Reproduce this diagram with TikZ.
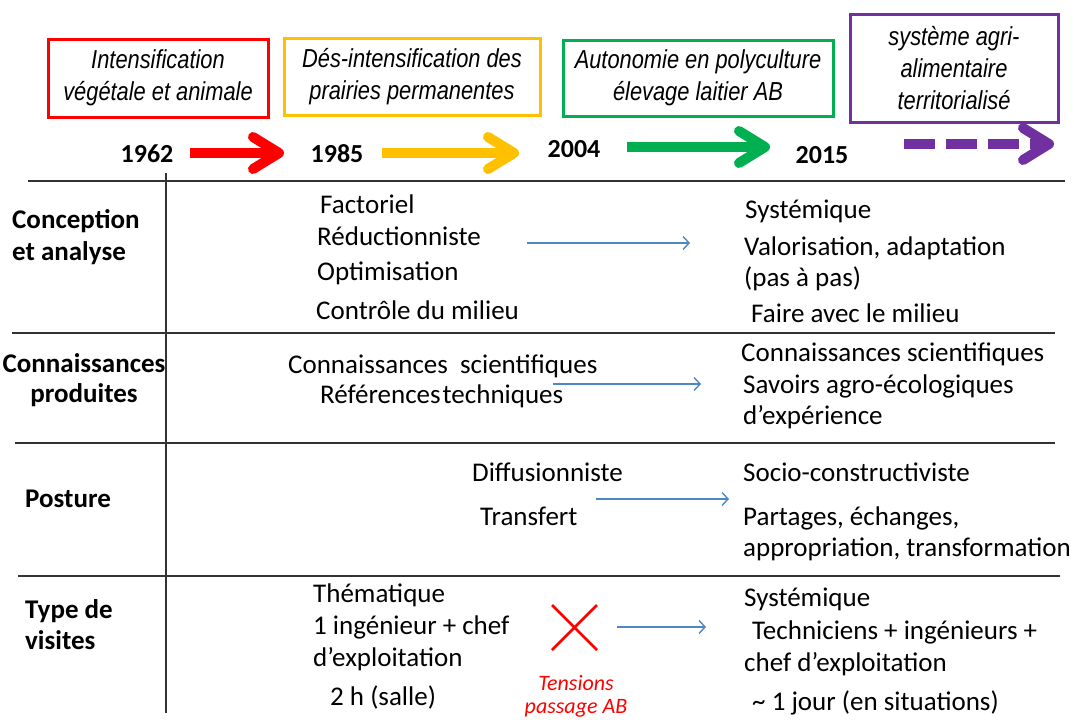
\documentclass[tikz,border=0pt]{standalone}
\usepackage{fontspec}
\setmainfont{Carlito}
\newfontfamily\arialfont[FakeStretch=0.84]{Liberation Sans}
\usetikzlibrary{arrows.meta,positioning}
\definecolor{rouge}{HTML}{FF0000}
\definecolor{jaune}{HTML}{FFC000}
\definecolor{vert}{HTML}{00B050}
\definecolor{violet}{HTML}{7030A0}
\definecolor{bleu}{HTML}{4F86C6}

\begin{document}
\begin{tikzpicture}[x=1pt,y=-1pt,
  periode/.style={draw=#1, line width=3pt, align=center, inner sep=0pt, font=\arialfont\itshape\fontsize{26}{32}\selectfont},
  annee/.style={anchor=base, inner sep=0pt, font=\bfseries\fontsize{26}{30}\selectfont},
  texte/.style={anchor=base west, inner sep=0pt, font=\fontsize{27}{33}\selectfont},
  entete/.style={anchor=base west, inner sep=0pt, font=\bfseries\fontsize{27}{33}\selectfont},
  fleche/.style={draw=#1, line width=10pt, -{Straight Barb[length=26pt,width=32pt,round]}},
  lien/.style={draw=bleu, line width=1.4pt, -{Straight Barb[length=6pt,width=13pt]}},
  trait/.style={draw=black!80, line width=1.6pt}]
\useasboundingbox[fill=white] (0,0) rectangle (1074,720);

% periodes
\node at (158,78) [periode=rouge, minimum width=220pt, minimum height=78pt] (p1) {Intensification\\végétale et animale};
\node at (412,77) [periode=jaune, minimum width=256pt, minimum height=77pt] (p2) {Dés-intensification des\\prairies permanentes};
\node at (698,78) [periode=vert, minimum width=270pt, minimum height=76pt] (p3) {Autonomie en polyculture\\élevage laitier AB};
\node at (954,68) [periode=violet, minimum width=208pt, minimum height=108pt] (p4) {système agri-\\alimentaire\\territorialisé};

% annees et fleches
\node at (147,162) [annee] (a1) {1962};
\node at (337,162) [annee] (a2) {1985};
\node at (574,157) [annee] (a3) {2004};
\node at (822,163) [annee] (a4) {2015};
\coordinate (f1a) at (190,153);
\coordinate (f1b) at (284,153);
\coordinate (f2a) at (382,153);
\coordinate (f2b) at (519,153);
\coordinate (f3a) at (627,147);
\coordinate (f3b) at (770,147);
\coordinate (f4a) at (904,144);
\coordinate (f4b) at (1054,144);
\draw[fleche=rouge] (f1a) -- (f1b);
\draw[fleche=jaune] (f2a) -- (f2b);
\draw[fleche=vert] (f3a) -- (f3b);
\draw[fleche=violet, dash pattern=on 31pt off 11pt] (f4a) -- (f4b);

% tableau
\draw[trait] (28,181) -- (1065,181);
\draw[trait] (12,333) -- (1055,333);
\draw[trait] (15,443) -- (1055,443);
\draw[trait] (18,576) -- (1060,576);
\draw[trait] (166,173) -- (166,713);

% conception et analyse
\node at (12,228) [entete] (c1) {Conception};
\node at (12,260) [entete] (c2) {et analyse};
\node at (320,213) [texte] (c3) {Factoriel};
\node at (317,245) [texte] (c4) {Réductionniste};
\node at (317,280) [texte] (c5) {Optimisation};
\node at (316,319) [texte] (c6) {Contrôle du milieu};
\node at (745,218) [texte] (c7) {Systémique};
\node at (744,255) [texte] (c8) {Valorisation, adaptation};
\node at (744,286) [texte] (c9) {(pas à pas)};
\node at (751,322) [texte] (c10) {Faire avec le milieu};
\coordinate (l1a) at (527,243);
\coordinate (l1b) at (690,243);
\draw[lien] (l1a) -- (l1b);

% connaissances produites
\node at (84,372) [entete, anchor=base] (k1) {Connaissances};
\node at (84,402) [entete, anchor=base] (k2) {produites};
\node at (288,373) [texte] (k3) {Connaissances\ \ scientifiques};
\node at (320,403) [texte] (k4) {Références\hspace{2pt}techniques};
\node at (741,361) [texte] (k5) {Connaissances scientifiques};
\node at (743,393) [texte] (k6) {Savoirs agro-écologiques};
\node at (743,424) [texte] (k7) {d’expérience};
\coordinate (l2a) at (553,384);
\coordinate (l2b) at (701,384);
\draw[lien] (l2a) -- (l2b);

% posture
\node at (25,507) [entete] (s1) {Posture};
\node at (472,481) [texte] (s2) {Diffusionniste};
\node at (480,525) [texte] (s3) {Transfert};
\node at (743,481) [texte] (s4) {Socio-constructiviste};
\node at (743,525) [texte] (s5) {Partages, échanges,};
\node at (743,556) [texte] (s6) {appropriation, transformation};
\coordinate (l3a) at (596,499);
\coordinate (l3b) at (729,499);
\draw[lien] (l3a) -- (l3b);

% type de visites
\node at (25,618) [entete] (v1) {Type de};
\node at (25,649) [entete] (v2) {visites};
\node at (313,602) [texte] (v3) {Thématique};
\node at (313,634) [texte] (v4) {1 ingénieur + chef};
\node at (313,666) [texte] (v5) {d’exploitation};
\node at (330,705) [texte] (v6) {2 h (salle)};
\node at (744,606) [texte] (v7) {Systémique};
\node at (752,639) [texte] (v8) {Techniciens + ingénieurs +};
\node at (744,671) [texte] (v9) {chef d’exploitation};
\node at (752,710) [texte] (v10) {\textasciitilde\ 1 jour (en situations)};
\draw[rouge, line width=2.5pt] (552,605) -- (597,650) (552,650) -- (597,605);
\node at (576,690) [anchor=base, inner sep=0pt, text=rouge, font=\itshape\fontsize{22}{28}\selectfont] (t1) {Tensions};
\node at (576,713) [anchor=base, inner sep=0pt, text=rouge, font=\itshape\fontsize{22}{28}\selectfont] (t2) {passage AB};
\coordinate (l4a) at (617,627);
\coordinate (l4b) at (706,627);
\draw[lien] (l4a) -- (l4b);
\end{tikzpicture}
\end{document}
